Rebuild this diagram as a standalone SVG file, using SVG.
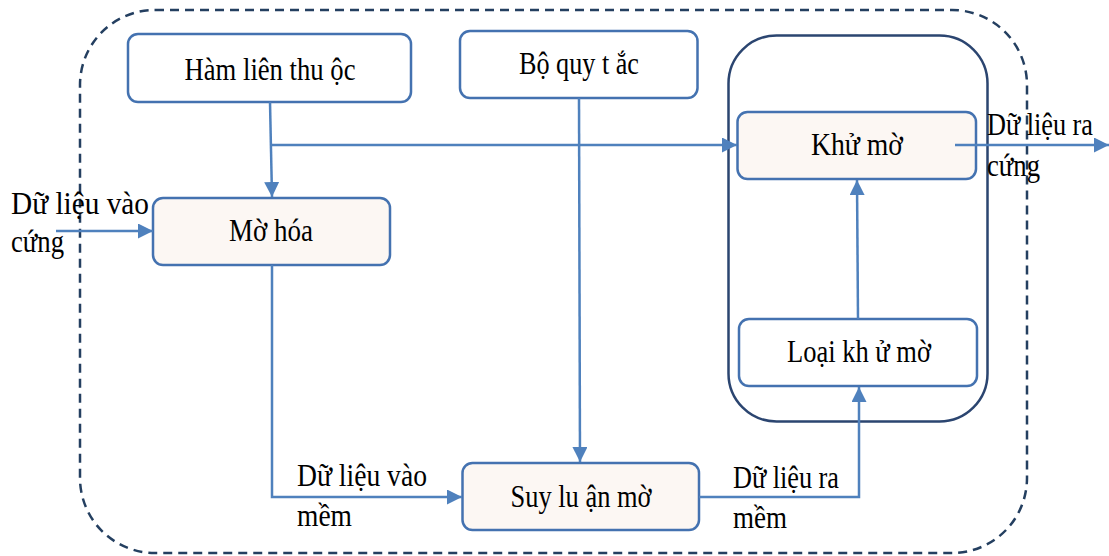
<svg xmlns="http://www.w3.org/2000/svg" width="1109" height="556" viewBox="0 0 1109 556">
<style>
.node{fill:#ffffff;stroke:#4472b0;stroke-width:2.5}
.soft{fill:#fcf7f3}
.c{text-anchor:middle}
.con{fill:none;stroke:#4f81bd;stroke-width:2.5}
</style>
<defs>
<marker id="ah" markerWidth="15" markerHeight="15" refX="15" refY="7.5" orient="auto" markerUnits="userSpaceOnUse">
<path d="M0,0 L15,7.5 L0,15 Z" fill="#4f81bd"/>
</marker>
</defs>
<rect x="80" y="10" width="947" height="543" rx="75" ry="75" fill="none" stroke="#243f60" stroke-width="2.5" stroke-dasharray="9,6"/>
<g id="container">
<rect x="728.5" y="35.5" width="259" height="386" rx="48" ry="48" fill="none" stroke="#2b4570" stroke-width="2.5"/>
</g>
<g font-family="Liberation Serif, Times New Roman, serif" font-size="31" fill="#000">
<g id="ham-lien-thuoc">
<rect class="node" x="128" y="34" width="283" height="68" rx="10"/>
<text class="c" x="270" y="80" textLength="171" lengthAdjust="spacingAndGlyphs">Hàm liên thu  ộc</text>
</g>
<g id="bo-quy-tac">
<rect class="node" x="460" y="31" width="237.5" height="67" rx="10"/>
<text class="c" x="579" y="74" textLength="120" lengthAdjust="spacingAndGlyphs">Bộ quy t ắc</text>
</g>
<g id="khu-mo">
<rect class="node soft" x="737.5" y="112" width="238.5" height="67" rx="10"/>
<text class="c" x="857" y="155" textLength="92" lengthAdjust="spacingAndGlyphs">Khử mờ</text>
</g>
<g id="loai-khu-mo">
<rect class="node" x="739" y="319" width="238" height="67" rx="10"/>
<text class="c" x="859" y="362" textLength="144" lengthAdjust="spacingAndGlyphs">Loại kh ử mờ</text>
</g>
<g id="mo-hoa">
<rect class="node soft" x="153" y="198" width="237" height="67" rx="10"/>
<text class="c" x="271" y="241" textLength="84" lengthAdjust="spacingAndGlyphs">Mờ hóa</text>
</g>
<g id="suy-luan-mo">
<rect class="node soft" x="462.5" y="463" width="236.5" height="67" rx="10"/>
<text class="c" x="581" y="507" textLength="141" lengthAdjust="spacingAndGlyphs">Suy lu ận mờ</text>
</g>
<g id="labels">
<text x="11" y="214" textLength="138" lengthAdjust="spacingAndGlyphs">Dữ  liệu  vào</text>
<text x="11" y="252" textLength="53" lengthAdjust="spacingAndGlyphs">cứng</text>
<text x="297" y="486" textLength="130" lengthAdjust="spacingAndGlyphs">Dữ liệu vào</text>
<text x="297" y="526" textLength="55" lengthAdjust="spacingAndGlyphs">mềm</text>
<text x="733" y="488" textLength="106" lengthAdjust="spacingAndGlyphs">Dữ liệu ra</text>
<text x="733" y="528" textLength="54" lengthAdjust="spacingAndGlyphs">mềm</text>
<text x="987" y="135" textLength="106" lengthAdjust="spacingAndGlyphs">Dữ liệu ra</text>
<text x="987" y="176" textLength="53" lengthAdjust="spacingAndGlyphs">cứng</text>
</g>
</g>
<g id="connectors">
<path class="con" d="M270,102 L272,197" marker-end="url(#ah)"/>
<path class="con" d="M271,145 L737,145" marker-end="url(#ah)"/>
<path class="con" d="M579,98 L580,462" marker-end="url(#ah)"/>
<path class="con" d="M56,231 L153,231" marker-end="url(#ah)"/>
<path class="con" d="M272,265 L272,497 L462,497" marker-end="url(#ah)"/>
<path class="con" d="M699,497 L859,497 L859,387" marker-end="url(#ah)"/>
<path class="con" d="M858,319 L857,180" marker-end="url(#ah)"/>
<path class="con" d="M955,145 L1109,145" marker-end="url(#ah)"/>
</g>
</svg>
